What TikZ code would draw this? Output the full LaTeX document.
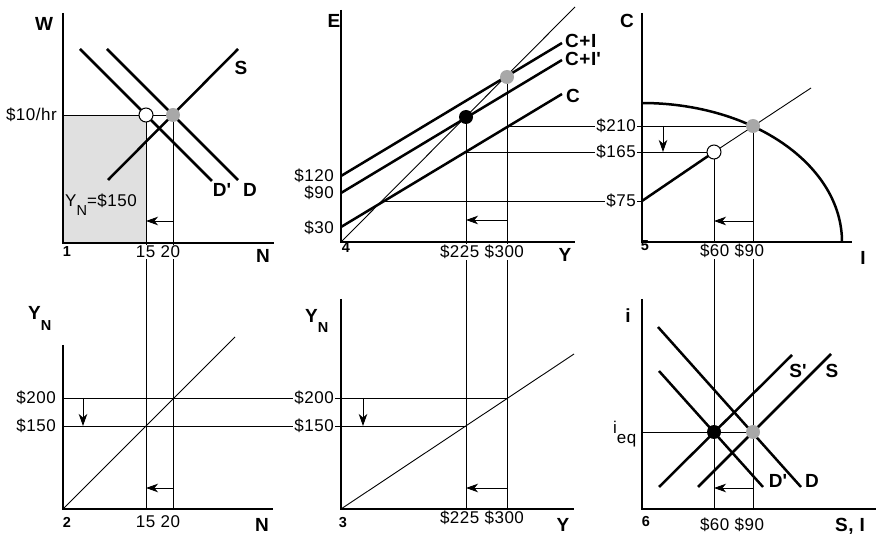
\documentclass[tikz,border=0pt]{standalone}
\usepackage{fontspec}
\setmainfont{Liberation Sans}[LetterSpace=3]
\usetikzlibrary{arrows.meta}

\definecolor{dotgrey}{gray}{0.66}
\definecolor{boxgrey}{gray}{0.88}

\newcommand{\valsize}{\fontsize{17}{18}\selectfont}
\newcommand{\labsize}{\fontsize{19}{20}\selectfont\bfseries}
\newcommand{\numsize}{\fontsize{14.5}{16}\selectfont\bfseries}

\begin{document}
\begin{tikzpicture}[x=1pt,y=-1pt,
  axis/.style={line width=1.3pt},
  guide/.style={line width=0.9pt},
  curve/.style={line width=2.5pt},
  moveline/.style={guide,-{Stealth[length=12pt,width=8.5pt,inset=3.5pt]}},
  val/.style={font=\valsize,fill=white,inner sep=1pt},
  lab/.style={font=\labsize,inner sep=0pt},
  num/.style={font=\numsize,inner sep=0pt},
  dot/.style={circle,inner sep=0pt,minimum size=14pt}]
  \useasboundingbox (0,0) rectangle (876,537);

  % key points
  \coordinate (w1) at (63,115);
  \coordinate (e1) at (173,115);
  \coordinate (f1) at (146,115);
  \coordinate (e4) at (507,77);
  \coordinate (f4) at (466,117);
  \coordinate (e5) at (753,126);
  \coordinate (f5) at (714,152);
  \coordinate (e6) at (753,432);
  \coordinate (f6) at (714,432);

  % panel 1: labour market
  \fill[boxgrey] (w1) rectangle (146,243);
  \draw[guide] (w1) -- (e1);
  \draw[guide] (f1) -- (146,509);
  \draw[guide] (e1) -- (173,509);
  \draw[curve] (108,180) -- (238,49);
  \draw[curve] (107,49) -- (238,180);
  \draw[curve] (80,49) -- (212,181);
  \draw[axis] (63,13) -- (63,243) -- (274,243);
  \draw[moveline] (173,221) -- (146,221);

  % panel 2: income from labour
  \draw[guide] (63,398) -- (507,398);
  \draw[guide] (63,426) -- (466,426);
  \draw[guide] (63,509) -- (235,337);
  \draw[axis] (63,345) -- (63,509) -- (273,509);
  \draw[moveline] (83,398) -- (83,426);
  \draw[moveline] (173,488) -- (146,488);

  % panel 3: income from output
  \draw[guide] (341,509) -- (574,354);
  \draw[guide] (f4) -- (466,509);
  \draw[guide] (e4) -- (507,509);
  \draw[axis] (341,299) -- (341,509) -- (574,509);
  \draw[moveline] (363,398) -- (363,426);
  \draw[moveline] (507,488) -- (466,488);

  % panel 4: expenditure
  \draw[guide] (341,242) -- (575,7);
  \draw[guide] (507,126) -- (e5);
  \draw[guide] (466,152) -- (f5);
  \draw[guide] (381,201) -- (642,201);
  \draw[curve] (341,176) -- (562,43);
  \draw[curve] (341,193) -- (562,60);
  \draw[curve] (341,227) -- (562,94);
  \draw[axis] (341,10) -- (341,242) -- (575,242);
  \draw[moveline] (507,220) -- (466,220);

  % panel 5: consumption and investment
  \draw[curve] (642,103) .. controls (752.5,103) and (842,165.2) .. (842,242);
  \draw[curve] (642,201) -- (f5);
  \draw[guide] (f5) -- (811,88);
  \draw[guide] (f5) -- (714,509);
  \draw[guide] (e5) -- (753,509);
  \draw[axis] (642,13) -- (642,242) -- (852,242);
  \draw[moveline] (663,126) -- (663,152);
  \draw[moveline] (753,221) -- (714,221);

  % panel 6: loanable funds
  \draw[guide] (642,432) -- (e6);
  \draw[curve] (658,327) -- (801,487);
  \draw[curve] (659,371) -- (763,487);
  \draw[curve] (659,487) -- (792,355);
  \draw[curve] (698,487) -- (831,354);
  \draw[axis] (642,299) -- (642,509) -- (876,509);
  \draw[moveline] (753,488) -- (714,488);

  % equilibrium dots
  \node[dot,fill=dotgrey] (g1) at (e1) {};
  \node[dot,draw,line width=1pt,fill=white] (h1) at (f1) {};
  \node[dot,fill=dotgrey] (g4) at (e4) {};
  \node[dot,fill=black] (h4) at (f4) {};
  \node[dot,fill=dotgrey] (g5) at (e5) {};
  \node[dot,draw,line width=1pt,fill=white] (h5) at (f5) {};
  \node[dot,fill=dotgrey] (g6) at (e6) {};
  \node[dot,fill=black] (h6) at (f6) {};

  % panel 1 labels
  \node[lab] (wlab) at (44,23.5) {W};
  \node[lab] (s1lab) at (241,68) {S};
  \node[lab] (dp1lab) at (222,190) {D\textquotesingle};
  \node[lab] (d1lab) at (250,190) {D};
  \node[lab] (n1lab) at (263,256) {N};
  \node[num] (p1) at (67,252) {1};
  \node[val,fill=none,anchor=east] (wage) at (58,115) {\$10/hr};
  \node[val,fill=none,inner sep=0pt,anchor=base west] (pay) at (65,207)
    {Y\raisebox{-9pt}{\fontsize{14.5}{14}\selectfont N}=\$150};
  \node[val] (n1val) at (158,252) {15 20};

  % panel 2 labels
  \node[lab,anchor=base west] (yn2) at (28,320)
    {Y\raisebox{-11pt}{\fontsize{14.5}{14}\selectfont\bfseries N}};
  \node[lab] (n2lab) at (262,525) {N};
  \node[num] (p2) at (67,522) {2};
  \node[val,anchor=east] (hi2) at (57,398) {\$200};
  \node[val,anchor=east] (lo2) at (57,426) {\$150};
  \node[val] (n2val) at (158,522) {15 20};

  % panel 3 labels
  \node[lab,anchor=base west] (yn3) at (305,323)
    {Y\raisebox{-10pt}{\fontsize{14.5}{14}\selectfont\bfseries N}};
  \node[lab] (y3lab) at (563,525) {Y};
  \node[num] (p3) at (343,523) {3};
  \node[val,anchor=east] (hi3) at (335,398) {\$200};
  \node[val,anchor=east] (lo3) at (335,426) {\$150};
  \node[val] (y3val) at (482,518) {\$225 \$300};

  % panel 4 labels
  \node[lab] (elab) at (334,21) {E};
  \node[lab,anchor=west] (cilab) at (565,41) {C+I};
  \node[lab,anchor=west] (cipl) at (565,59) {C+I\textquotesingle};
  \node[lab,anchor=west] (c4lab) at (566,96) {C};
  \node[lab] (y4lab) at (565,255) {Y};
  \node[num] (p4) at (346,248) {4};
  \node[val,anchor=east] (a120) at (335,176) {\$120};
  \node[val,anchor=east] (a90) at (335,193) {\$90};
  \node[val,anchor=east] (a30) at (335,228) {\$30};
  \node[val] (y4val) at (482,252) {\$225 \$300};

  % panel 5 labels
  \node[lab] (c5lab) at (627,21) {C};
  \node[lab] (i5lab) at (863,258) {I};
  \node[num] (p5) at (645,246) {5};
  \node[val,anchor=east] (c210) at (637,126) {\$210};
  \node[val,anchor=east] (c165) at (637,152) {\$165};
  \node[val,anchor=east] (c75) at (637,201) {\$75};
  \node[val] (i5val) at (732,251) {\$60 \$90};

  % panel 6 labels
  \node[lab] (rlab) at (628,316) {i};
  \node[val,fill=none,inner sep=0pt,anchor=base west] (ieq) at (613,433)
    {i\raisebox{-10pt}{eq}};
  \node[lab] (sp6lab) at (798,371) {S\textquotesingle};
  \node[lab] (s6lab) at (832,371) {S};
  \node[lab] (dp6lab) at (778,481) {D\textquotesingle};
  \node[lab] (d6lab) at (812,481) {D};
  \node[lab] (silab) at (850,526) {S, I};
  \node[num] (p6) at (646,522) {6};
  \node[val] (i6val) at (732,525) {\$60 \$90};
\end{tikzpicture}
\end{document}
